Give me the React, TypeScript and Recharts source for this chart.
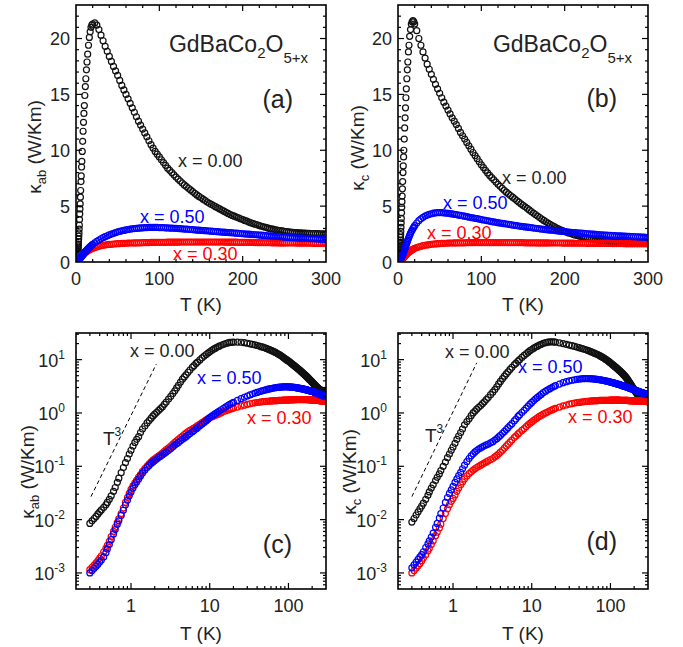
import React from 'react';
import { ScatterChart, Scatter, XAxis, YAxis, ReferenceLine } from 'recharts';

const FONT = '"Liberation Sans", Arial, Helvetica, sans-serif';

// temperature grid shared by all series (K)
const temps = [
  0.3, 0.32, 0.34, 0.36, 0.38, 0.4, 0.42, 0.45, 0.48, 0.5,
  0.53, 0.56, 0.6, 0.63, 0.67, 0.7, 0.75, 0.8, 0.85, 0.9,
  0.95, 1.0, 1.06, 1.12, 1.18, 1.25, 1.32, 1.4, 1.5, 1.6,
  1.7, 1.8, 1.9, 2.0, 2.12, 2.25, 2.37, 2.5, 2.65, 2.8,
  3.0, 3.2, 3.4, 3.6, 3.8, 4.0, 4.25, 4.5, 4.75, 5.0,
  5.3, 5.6, 6.0, 6.3, 6.7, 7.0, 7.5, 8.0, 8.5, 9.0,
  9.5, 10, 10.6, 11.2, 11.8, 12.5, 13.2, 14, 15, 16,
  17, 18, 19,
  20, 22.5, 25, 27.5, 30, 32.5, 35, 37.5, 40, 42.5,
  45, 47.5, 50, 52.5, 55, 57.5, 60, 62.5, 65, 67.5,
  70, 72.5, 75, 77.5, 80, 82.5, 85, 87.5, 90, 92.5,
  95, 97.5, 100, 102.5, 105, 107.5, 110, 112.5, 115, 117.5,
  120, 122.5, 125, 127.5, 130, 132.5, 135, 137.5, 140, 142.5,
  145, 147.5, 150, 152.5, 155, 157.5, 160, 162.5, 165, 167.5,
  170, 172.5, 175, 177.5, 180, 182.5, 185, 187.5, 190, 192.5,
  195, 197.5, 200, 202.5, 205, 207.5, 210, 212.5, 215, 217.5,
  220, 222.5, 225, 227.5, 230, 232.5, 235, 237.5, 240, 242.5,
  245, 247.5, 250, 252.5, 255, 257.5, 260, 262.5, 265, 267.5,
  270, 272.5, 275, 277.5, 280, 282.5, 285, 287.5, 290, 292.5,
  295, 297.5, 300,
];

// kappa_ab (W/Km)
const kabX000 = [
  0.0085, 0.0095, 0.0105, 0.0115, 0.0128, 0.014, 0.0152, 0.017, 0.019, 0.021,
  0.024, 0.028, 0.034, 0.040, 0.050, 0.060, 0.076, 0.095, 0.117, 0.14,
  0.17, 0.20, 0.24, 0.28, 0.32, 0.36, 0.43, 0.50, 0.57, 0.65,
  0.72, 0.80, 0.88, 0.95, 1.03, 1.12, 1.21, 1.30, 1.45, 1.60,
  1.82, 2.05, 2.32, 2.6, 2.95, 3.3, 3.8, 4.3, 4.75, 5.2,
  5.8, 6.4, 7.2, 7.7, 8.5, 9.0, 9.9, 10.8, 11.7, 12.5,
  13.3, 14.0, 14.9, 15.7, 16.4, 17.2, 17.9, 18.6, 19.4, 20.1,
  20.6, 21.0, 21.2,
  21.3, 21.4, 21.2, 20.8, 20.3, 19.8, 19.3, 18.85, 18.4, 17.95,
  17.5, 17.1, 16.7, 16.25, 15.8, 15.4, 15.0, 14.6, 14.2, 13.8,
  13.4, 13.0, 12.6, 12.25, 11.9, 11.55, 11.2, 10.85, 10.5, 10.2,
  9.9, 9.65, 9.4, 9.15, 8.9, 8.65, 8.4, 8.2, 8.0, 7.8,
  7.6, 7.42, 7.25, 7.07, 6.9, 6.75, 6.6, 6.45, 6.3, 6.15,
  6.0, 5.87, 5.75, 5.62, 5.5, 5.37, 5.25, 5.15, 5.05, 4.95,
  4.85, 4.75, 4.65, 4.55, 4.45, 4.35, 4.25, 4.17, 4.1, 4.02,
  3.95, 3.87, 3.8, 3.72, 3.65, 3.57, 3.5, 3.44, 3.38, 3.32,
  3.26, 3.2, 3.15, 3.1, 3.05, 3.0, 2.96, 2.92, 2.88, 2.84,
  2.81, 2.78, 2.75, 2.72, 2.7, 2.68, 2.66, 2.64, 2.63, 2.61,
  2.6, 2.59, 2.58, 2.57, 2.56, 2.55, 2.55, 2.54, 2.54, 2.53,
  2.53, 2.52, 2.52,
];
const kabX030 = [
  0.00115, 0.00128, 0.0014, 0.00155, 0.0017, 0.0019, 0.0021, 0.0025, 0.0029, 0.0033,
  0.0039, 0.0048, 0.006, 0.0072, 0.0088, 0.0103, 0.013, 0.0165, 0.021, 0.026,
  0.031, 0.037, 0.043, 0.049, 0.055, 0.063, 0.07, 0.08, 0.091, 0.101,
  0.111, 0.121, 0.13, 0.138, 0.147, 0.157, 0.166, 0.176, 0.19, 0.205,
  0.222, 0.24, 0.26, 0.28, 0.3, 0.32, 0.345, 0.37, 0.395, 0.42,
  0.445, 0.47, 0.5, 0.52, 0.55, 0.58, 0.62, 0.66, 0.7, 0.74,
  0.78, 0.81, 0.84, 0.87, 0.9, 0.94, 0.97, 1.01, 1.06, 1.1,
  1.14, 1.17, 1.2,
  1.23, 1.29, 1.35, 1.4, 1.45, 1.49, 1.52, 1.55, 1.57, 1.59,
  1.61, 1.63, 1.64, 1.65, 1.66, 1.67, 1.68, 1.69, 1.7, 1.7,
  1.71, 1.71, 1.72, 1.72, 1.73, 1.73, 1.74, 1.74, 1.75, 1.75,
  1.75, 1.75, 1.76, 1.76, 1.76, 1.76, 1.77, 1.77, 1.77, 1.77,
  1.77, 1.77, 1.78, 1.78, 1.78, 1.78, 1.78, 1.78, 1.78, 1.78,
  1.78, 1.78, 1.78, 1.78, 1.78, 1.78, 1.78, 1.78, 1.78, 1.78,
  1.78, 1.78, 1.78, 1.78, 1.77, 1.77, 1.77, 1.77, 1.77, 1.77,
  1.76, 1.76, 1.76, 1.76, 1.75, 1.75, 1.75, 1.75, 1.74, 1.74,
  1.74, 1.74, 1.73, 1.73, 1.73, 1.73, 1.72, 1.72, 1.72, 1.72,
  1.71, 1.71, 1.71, 1.71, 1.7, 1.7, 1.7, 1.7, 1.69, 1.69,
  1.69, 1.69, 1.68, 1.68, 1.68, 1.68, 1.67, 1.67, 1.67, 1.67,
  1.66, 1.66, 1.66,
];
const kabX050 = [
  0.001, 0.00111, 0.00122, 0.00134, 0.00146, 0.0016, 0.00175, 0.002, 0.0024, 0.0028,
  0.0034, 0.0042, 0.0054, 0.0065, 0.0082, 0.0095, 0.012, 0.015, 0.019, 0.023,
  0.028, 0.033, 0.039, 0.045, 0.051, 0.058, 0.066, 0.075, 0.085, 0.095,
  0.104, 0.113, 0.121, 0.128, 0.137, 0.147, 0.155, 0.163, 0.174, 0.185,
  0.2, 0.215, 0.232, 0.25, 0.265, 0.28, 0.3, 0.32, 0.34, 0.36,
  0.385, 0.41, 0.44, 0.47, 0.5, 0.53, 0.575, 0.62, 0.665, 0.71,
  0.765, 0.82, 0.87, 0.92, 0.97, 1.03, 1.08, 1.15, 1.22, 1.3,
  1.38, 1.45, 1.52,
  1.58, 1.72, 1.85, 1.97, 2.08, 2.18, 2.27, 2.35, 2.43, 2.5,
  2.57, 2.63, 2.69, 2.74, 2.79, 2.83, 2.87, 2.91, 2.94, 2.97,
  2.99, 3.01, 3.03, 3.05, 3.06, 3.07, 3.08, 3.09, 3.09, 3.09,
  3.09, 3.09, 3.08, 3.08, 3.07, 3.06, 3.05, 3.04, 3.03, 3.02,
  3.01, 3.0, 2.98, 2.97, 2.95, 2.94, 2.92, 2.91, 2.89, 2.88,
  2.86, 2.85, 2.83, 2.82, 2.8, 2.79, 2.77, 2.76, 2.74, 2.73,
  2.71, 2.7, 2.68, 2.67, 2.65, 2.64, 2.62, 2.61, 2.59, 2.58,
  2.56, 2.55, 2.53, 2.52, 2.5, 2.49, 2.47, 2.46, 2.44, 2.43,
  2.41, 2.4, 2.38, 2.37, 2.35, 2.34, 2.32, 2.31, 2.29, 2.28,
  2.26, 2.25, 2.23, 2.22, 2.2, 2.19, 2.18, 2.17, 2.16, 2.15,
  2.14, 2.13, 2.12, 2.11, 2.1, 2.09, 2.08, 2.07, 2.06, 2.05,
  2.04, 2.03, 2.02,
];

// kappa_c (W/Km)
const kcX000 = [
  0.009, 0.0105, 0.0122, 0.014, 0.016, 0.018, 0.0203, 0.024, 0.0285, 0.033,
  0.039, 0.045, 0.054, 0.062, 0.072, 0.083, 0.1, 0.12, 0.145, 0.17,
  0.2, 0.23, 0.27, 0.32, 0.37, 0.43, 0.5, 0.6, 0.69, 0.78,
  0.89, 1.0, 1.09, 1.18, 1.28, 1.38, 1.5, 1.62, 1.78, 1.95,
  2.2, 2.45, 2.75, 3.1, 3.5, 3.9, 4.4, 4.9, 5.4, 5.9,
  6.55, 7.2, 8.0, 8.6, 9.4, 10.0, 11.0, 12.0, 12.9, 13.8,
  14.7, 15.5, 16.4, 17.2, 17.9, 18.8, 19.4, 20.2, 20.8, 21.3,
  21.5, 21.6, 21.5,
  21.3, 20.7, 20.0, 19.4, 18.8, 18.25, 17.7, 17.25, 16.8, 16.35,
  15.9, 15.5, 15.1, 14.7, 14.3, 13.95, 13.6, 13.25, 12.9, 12.6,
  12.3, 11.95, 11.6, 11.3, 11.0, 10.7, 10.4, 10.1, 9.8, 9.52,
  9.25, 8.97, 8.7, 8.45, 8.2, 7.97, 7.75, 7.55, 7.35, 7.15,
  6.95, 6.77, 6.6, 6.42, 6.25, 6.1, 5.95, 5.8, 5.65, 5.5,
  5.35, 5.21, 5.08, 4.94, 4.8, 4.66, 4.52, 4.38, 4.25, 4.11,
  3.98, 3.85, 3.72, 3.6, 3.48, 3.37, 3.26, 3.16, 3.06, 2.97,
  2.88, 2.8, 2.73, 2.66, 2.6, 2.54, 2.48, 2.42, 2.37, 2.32,
  2.27, 2.22, 2.18, 2.14, 2.1, 2.06, 2.03, 2.0, 1.97, 1.94,
  1.92, 1.9, 1.88, 1.86, 1.84, 1.82, 1.81, 1.8, 1.79, 1.78,
  1.77, 1.76, 1.75, 1.74, 1.74, 1.73, 1.73, 1.72, 1.72, 1.71,
  1.71, 1.7, 1.7,
];
const kcX030 = [
  0.001, 0.00111, 0.00123, 0.00136, 0.0015, 0.0017, 0.0019, 0.0022, 0.0026, 0.0029,
  0.0034, 0.004, 0.005, 0.0058, 0.007, 0.0082, 0.0105, 0.013, 0.016, 0.019,
  0.022, 0.025, 0.029, 0.034, 0.039, 0.045, 0.051, 0.058, 0.066, 0.073,
  0.079, 0.085, 0.09, 0.095, 0.1, 0.105, 0.11, 0.115, 0.121, 0.127,
  0.133, 0.14, 0.15, 0.16, 0.172, 0.185, 0.2, 0.22, 0.24, 0.26,
  0.285, 0.31, 0.345, 0.37, 0.405, 0.43, 0.47, 0.51, 0.555, 0.6,
  0.64, 0.68, 0.725, 0.77, 0.81, 0.86, 0.9, 0.95, 1.0, 1.05,
  1.1, 1.14, 1.18,
  1.22, 1.29, 1.36, 1.41, 1.46, 1.5, 1.53, 1.56, 1.58, 1.6,
  1.62, 1.64, 1.65, 1.66, 1.67, 1.68, 1.69, 1.7, 1.7, 1.71,
  1.71, 1.72, 1.72, 1.72, 1.72, 1.73, 1.73, 1.73, 1.73, 1.73,
  1.73, 1.74, 1.74, 1.74, 1.74, 1.74, 1.74, 1.74, 1.74, 1.74,
  1.74, 1.74, 1.74, 1.74, 1.74, 1.73, 1.73, 1.73, 1.73, 1.73,
  1.73, 1.73, 1.73, 1.72, 1.72, 1.72, 1.72, 1.72, 1.72, 1.71,
  1.71, 1.71, 1.71, 1.71, 1.71, 1.7, 1.7, 1.7, 1.7, 1.7,
  1.7, 1.69, 1.69, 1.69, 1.69, 1.69, 1.69, 1.68, 1.68, 1.68,
  1.68, 1.68, 1.68, 1.67, 1.67, 1.67, 1.67, 1.67, 1.67, 1.66,
  1.66, 1.66, 1.66, 1.66, 1.66, 1.65, 1.65, 1.65, 1.65, 1.65,
  1.65, 1.64, 1.64, 1.64, 1.64, 1.64, 1.64, 1.63, 1.63, 1.63,
  1.63, 1.63, 1.63,
];
const kcX050 = [
  0.00125, 0.00142, 0.0016, 0.0018, 0.002, 0.0022, 0.0025, 0.003, 0.0035, 0.004,
  0.0047, 0.0056, 0.0072, 0.0085, 0.0107, 0.013, 0.0165, 0.021, 0.026, 0.031,
  0.036, 0.042, 0.05, 0.058, 0.067, 0.077, 0.09, 0.105, 0.122, 0.14,
  0.157, 0.172, 0.186, 0.198, 0.21, 0.222, 0.232, 0.242, 0.252, 0.262,
  0.275, 0.29, 0.31, 0.33, 0.355, 0.38, 0.415, 0.45, 0.49, 0.53,
  0.58, 0.63, 0.71, 0.77, 0.86, 0.92, 1.02, 1.12, 1.23, 1.35,
  1.46, 1.58, 1.71, 1.84, 1.96, 2.1, 2.23, 2.4, 2.56, 2.72,
  2.86, 3.0, 3.13,
  3.25, 3.49, 3.7, 3.86, 4.0, 4.11, 4.2, 4.27, 4.32, 4.37,
  4.4, 4.41, 4.42, 4.41, 4.4, 4.38, 4.36, 4.33, 4.3, 4.27,
  4.24, 4.2, 4.17, 4.13, 4.1, 4.06, 4.02, 3.98, 3.95, 3.91,
  3.88, 3.84, 3.8, 3.76, 3.73, 3.69, 3.66, 3.62, 3.59, 3.55,
  3.52, 3.49, 3.46, 3.43, 3.4, 3.37, 3.34, 3.31, 3.28, 3.25,
  3.22, 3.19, 3.17, 3.14, 3.12, 3.09, 3.07, 3.04, 3.02, 2.99,
  2.97, 2.94, 2.92, 2.9, 2.88, 2.86, 2.84, 2.82, 2.8, 2.78,
  2.76, 2.74, 2.72, 2.7, 2.68, 2.66, 2.64, 2.62, 2.61, 2.59,
  2.58, 2.56, 2.55, 2.53, 2.52, 2.5, 2.49, 2.47, 2.46, 2.44,
  2.43, 2.41, 2.4, 2.39, 2.38, 2.37, 2.36, 2.35, 2.34, 2.33,
  2.32, 2.31, 2.3, 2.29, 2.28, 2.27, 2.26, 2.25, 2.24, 2.23,
  2.22, 2.21, 2.2,
];

// T^3 guide lines (T, kappa end points)
const cubeAbT = [0.31, 2.1];
const cubeAbK = [0.027, 8.3];
const cubeCT = [0.3, 2.0];
const cubeCK = [0.027, 8.7];

// axis ticks
const linTTicks = [0, 20, 40, 60, 80, 100, 120, 140, 160, 180, 200, 220, 240, 260, 280, 300];
const linTMajor = [0, 100, 200, 300];
const linKTicks = [0, 1, 2, 3, 4, 5, 6, 7, 8, 9, 10, 11, 12, 13, 14, 15, 16, 17, 18, 19, 20, 21, 22, 23];
const linKMajor = [0, 5, 10, 15, 20];
const logTMajor = [1, 10, 100];
const logKMajor = [0.001, 0.01, 0.1, 1, 10];
const logTDecades = [0.1, 1, 10, 100];
const logKDecades = [0.0001, 0.001, 0.01, 0.1, 1, 10];

const linTDomain: [number, number] = [0, 300];
const linKDomain: [number, number] = [0, 23];
const logTDomain: [number, number] = [0.2, 300];
const logKDomain: [number, number] = [0.0005, 31.6];

const withMinors = (decades: number[], dom: [number, number]) =>
  decades
    .flatMap((d) => [1, 2, 3, 4, 5, 6, 7, 8, 9].map((m) => +(m * d).toPrecision(3)))
    .filter((v) => v > dom[0] * 1.001 && v < dom[1] * 0.999);

const logTTicks = withMinors(logTDecades, logTDomain);
const logKTicks = withMinors(logKDecades, logKDomain);

const pts = (vals: number[]) => temps.map((T, i) => ({ T, k: vals[i] }));

const isMajor = (v: number, majors: number[]) =>
  majors.some((m) => Math.abs(v - m) <= Math.abs(m) * 1e-6 + 1e-12);

// plot rectangles (page px) that the chart margins below produce
const boxA = { l: 76, t: 5, r: 326, b: 262 };
const boxB = { l: 398, t: 5, r: 648, b: 262 };
const boxC = { l: 76, t: 333, r: 326, b: 589 };
const boxD = { l: 398, t: 333, r: 648, b: 589 };

// tick labels (drawn by the axes)
const bottomLabel = (majors: number[]) => (props: any) => {
  const { x, y, payload } = props;
  if (!isMajor(payload.value, majors)) return <g />;
  return (
    <text x={x} y={y + 23} textAnchor="middle" fontSize={18} fill="#222" fontFamily={FONT}>
      {String(payload.value)}
    </text>
  );
};

const leftLabel = (majors: number[], pow: boolean) => (props: any) => {
  const { x, y, payload } = props;
  const v = payload.value;
  if (!isMajor(v, majors)) return <g />;
  if (!pow) {
    return (
      <text x={x - 6} y={y + 6.5} textAnchor="end" fontSize={18} fill="#222" fontFamily={FONT}>
        {String(v)}
      </text>
    );
  }
  return (
    <text x={x - 11} y={y + 7} textAnchor="end" fontSize={18} fill="#222" fontFamily={FONT}>
      10
      <tspan dy={-8} fontSize={12}>
        {String(Math.round(Math.log10(v)))}
      </tspan>
    </text>
  );
};

const ring = (color: string) => (props: any) =>
  props.cx == null ? <g /> : <circle cx={props.cx} cy={props.cy} r={3} fill="none" stroke={color} strokeWidth={1.2} />;

interface PanelProps {
  left: number;
  top: number;
  width: number;
  height: number;
  margin: { top: number; right: number; bottom: number; left: number };
  log: boolean;
  black: number[];
  red: number[];
  blue: number[];
  cubeT?: number[];
  cubeK?: number[];
}

const Panel = (p: PanelProps) => {
  const tDomain = p.log ? logTDomain : linTDomain;
  const kDomain = p.log ? logKDomain : linKDomain;
  const tTicks = p.log ? logTTicks : linTTicks;
  const kTicks = p.log ? logKTicks : linKTicks;
  const tMajor = p.log ? logTMajor : linTMajor;
  const kMajor = p.log ? logKMajor : linKMajor;
  const scale = p.log ? 'log' : 'linear';
  return (
    <div style={{ position: 'absolute', left: p.left, top: p.top }}>
      <ScatterChart width={p.width} height={p.height} margin={p.margin}>
        <XAxis
          xAxisId="b"
          dataKey="T"
          type="number"
          scale={scale}
          domain={tDomain}
          allowDataOverflow
          ticks={tTicks}
          interval={0}
          height={1}
          tickSize={0}
          tickMargin={0}
          axisLine={false}
          tickLine={false}
          tick={bottomLabel(tMajor)}
        />
        <YAxis
          yAxisId="l"
          dataKey="k"
          type="number"
          scale={scale}
          domain={kDomain}
          allowDataOverflow
          ticks={kTicks}
          interval={0}
          width={1}
          tickSize={0}
          tickMargin={0}
          axisLine={false}
          tickLine={false}
          tick={leftLabel(kMajor, p.log)}
        />
        {p.cubeT && p.cubeK ? (
          <ReferenceLine
            xAxisId="b"
            yAxisId="l"
            segment={[
              { x: p.cubeT[0], y: p.cubeK[0] },
              { x: p.cubeT[1], y: p.cubeK[1] },
            ]}
            stroke="#000"
            strokeWidth={1}
            strokeDasharray="4 3"
          />
        ) : null}
        <Scatter xAxisId="b" yAxisId="l" data={pts(p.black)} shape={ring('#111')} isAnimationActive={false} />
        <Scatter xAxisId="b" yAxisId="l" data={pts(p.red)} shape={ring('#ff0000')} isAnimationActive={false} />
        <Scatter xAxisId="b" yAxisId="l" data={pts(p.blue)} shape={ring('#0000ff')} isAnimationActive={false} />
      </ScatterChart>
    </div>
  );
};

// frame with inward ticks on all four sides, same domain/range as the chart axes
type Box = { l: number; t: number; r: number; b: number };
const Frame = ({ box, log }: { box: Box; log: boolean }) => {
  const tDom = log ? logTDomain : linTDomain;
  const kDom = log ? logKDomain : linKDomain;
  const f = (v: number) => (log ? Math.log10(v) : v);
  const px = (v: number) => box.l + ((f(v) - f(tDom[0])) / (f(tDom[1]) - f(tDom[0]))) * (box.r - box.l);
  const py = (v: number) => box.b - ((f(v) - f(kDom[0])) / (f(kDom[1]) - f(kDom[0]))) * (box.b - box.t);
  const tTicks = (log ? logTTicks : linTTicks).filter((v) => v > tDom[0] && v < tDom[1]);
  const kTicks = (log ? logKTicks : linKTicks).filter((v) => v > kDom[0] && v < kDom[1]);
  const tMajor = log ? logTMajor : linTMajor;
  const kMajor = log ? logKMajor : linKMajor;
  return (
    <g stroke="#000" fill="none">
      {tTicks.map((v) => {
        const x = px(v);
        const len = isMajor(v, tMajor) ? 6 : 3;
        return (
          <g key={`t${v}`} strokeWidth={1.2}>
            <line x1={x} x2={x} y1={box.b} y2={box.b - len} />
            <line x1={x} x2={x} y1={box.t} y2={box.t + len} />
          </g>
        );
      })}
      {kTicks.map((v) => {
        const y = py(v);
        const len = isMajor(v, kMajor) ? 6 : 3;
        return (
          <g key={`k${v}`} strokeWidth={1.2}>
            <line x1={box.l} x2={box.l + len} y1={y} y2={y} />
            <line x1={box.r} x2={box.r - len} y1={y} y2={y} />
          </g>
        );
      })}
      <rect x={box.l} y={box.t} width={box.r - box.l} height={box.b - box.t} strokeWidth={1.6} />
    </g>
  );
};

const txt = { fontFamily: FONT, fill: '#222' } as const;

const YTitle = ({ x, y, sub }: { x: number; y: number; sub: string }) => (
  <text x={x} y={y} transform={`rotate(-90 ${x} ${y})`} textAnchor="middle" fontSize={19} {...txt}>
    κ
    <tspan dy={5} fontSize={13}>
      {sub}
    </tspan>
    <tspan dy={-5}> (W/Km)</tspan>
  </text>
);

const Formula = ({ x, y }: { x: number; y: number }) => (
  <text x={x} y={y} textAnchor="end" fontSize={23} {...txt}>
    GdBaCo
    <tspan dy={6} fontSize={15}>
      2
    </tspan>
    <tspan dy={-6}>O</tspan>
    <tspan dy={11} fontSize={15}>
      5+x
    </tspan>
  </text>
);

const Note = ({ x, y, color, children }: { x: number; y: number; color: string; children: React.ReactNode }) => (
  <text x={x} y={y} fontSize={18} fontFamily={FONT} fill={color}>
    {children}
  </text>
);

const TCube = ({ x, y }: { x: number; y: number }) => (
  <text x={x} y={y} fontSize={19} {...txt}>
    T
    <tspan dy={-9} fontSize={12}>
      3
    </tspan>
  </text>
);

const Overlay = () => (
  <svg width={683} height={647} style={{ position: 'absolute', left: 0, top: 0, pointerEvents: 'none' }}>
    <Frame box={boxA} log={false} />
    <Frame box={boxB} log={false} />
    <Frame box={boxC} log />
    <Frame box={boxD} log />

    {/* (a) */}
    <Formula x={308} y={52} />
    <text x={293} y={108} textAnchor="end" fontSize={25} {...txt}>(a)</text>
    <Note x={178} y={167} color="#222">x = 0.00</Note>
    <Note x={140} y={223} color="#0000ff">x = 0.50</Note>
    <Note x={173} y={260} color="#ff0000">x = 0.30</Note>
    <YTitle x={41} y={147} sub="ab" />
    <text x={201} y={311} textAnchor="middle" fontSize={19} {...txt}>T (K)</text>

    {/* (b) */}
    <Formula x={632} y={52} />
    <text x={617} y={107} textAnchor="end" fontSize={25} {...txt}>(b)</text>
    <Note x={502} y={184} color="#222">x = 0.00</Note>
    <Note x={443} y={209} color="#0000ff">x = 0.50</Note>
    <Note x={427} y={239} color="#ff0000">x = 0.30</Note>
    <YTitle x={364} y={148} sub="c" />
    <text x={523} y={311} textAnchor="middle" fontSize={19} {...txt}>T (K)</text>

    {/* (c) */}
    <Note x={130} y={357} color="#222">x = 0.00</Note>
    <Note x={197} y={384} color="#0000ff">x = 0.50</Note>
    <Note x={247} y={424} color="#ff0000">x = 0.30</Note>
    <TCube x={103} y={445} />
    <text x={292} y={553} textAnchor="end" fontSize={25} {...txt}>(c)</text>
    <YTitle x={34} y={472} sub="ab" />
    <text x={201} y={640} textAnchor="middle" fontSize={19} {...txt}>T (K)</text>

    {/* (d) */}
    <Note x={445} y={358} color="#222">x = 0.00</Note>
    <Note x={518} y={373} color="#0000ff">x = 0.50</Note>
    <Note x={568} y={423} color="#ff0000">x = 0.30</Note>
    <TCube x={425} y={442} />
    <text x={617} y={550} textAnchor="end" fontSize={25} {...txt}>(d)</text>
    <YTitle x={356} y={472} sub="c" />
    <text x={523} y={640} textAnchor="middle" fontSize={19} {...txt}>T (K)</text>
  </svg>
);

export default function App() {
  return (
    <div style={{ position: 'absolute', left: 0, top: 0, width: 683, height: 647, background: '#fff', fontFamily: FONT }}>
      <Panel
        left={0}
        top={0}
        width={341}
        height={323}
        margin={{ top: 5, right: 15, bottom: 60, left: 75 }}
        log={false}
        black={kabX000}
        red={kabX030}
        blue={kabX050}
      />
      <Panel
        left={341}
        top={0}
        width={342}
        height={323}
        margin={{ top: 5, right: 35, bottom: 60, left: 56 }}
        log={false}
        black={kcX000}
        red={kcX030}
        blue={kcX050}
      />
      <Panel
        left={0}
        top={323}
        width={341}
        height={324}
        margin={{ top: 10, right: 15, bottom: 57, left: 75 }}
        log
        black={kabX000}
        red={kabX030}
        blue={kabX050}
        cubeT={cubeAbT}
        cubeK={cubeAbK}
      />
      <Panel
        left={341}
        top={323}
        width={342}
        height={324}
        margin={{ top: 10, right: 35, bottom: 57, left: 56 }}
        log
        black={kcX000}
        red={kcX030}
        blue={kcX050}
        cubeT={cubeCT}
        cubeK={cubeCK}
      />
      <Overlay />
    </div>
  );
}
